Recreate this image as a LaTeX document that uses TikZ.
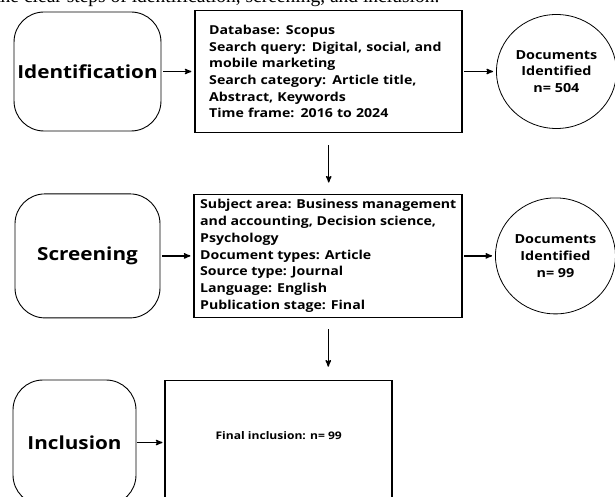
\documentclass[tikz,border=0pt]{standalone}
\usepackage{fontspec}
\setmainfont{Liberation Serif}
\newfontfamily\flowfont[FakeStretch=1.15]{Open Sans}
\usepackage{tikz}
\usetikzlibrary{arrows,shapes,positioning,calc}

\begin{document}
\begin{tikzpicture}[->,>=stealth',line width=1.3pt,x=1pt,y=1pt]
\tikzset{
	stage/.style={
		rectangle,
		rounded corners=30pt,
		draw,
		line width=0.9pt,
		minimum width=145pt,
		font=\flowfont\bfseries\fontsize{18}{22}\selectfont
	},
	criteria/.style={
		rectangle,
		draw,
		line width=1.6pt,
		align=left,
		inner sep=0pt,
		font=\flowfont\bfseries\fontsize{12.3}{16.7}\selectfont
	},
	result/.style={
		ellipse,
		draw,
		line width=0.8pt,
		align=center,
		inner sep=0pt,
		minimum width=120pt,
		font=\flowfont\bfseries\fontsize{12.5}{16.7}\selectfont
	}
}

\useasboundingbox (0,0) rectangle (615,-497);
\clip (0,0) rectangle (615,-497);

% caption line cut off above
\node[anchor=base east, inner sep=0pt, font=\fontsize{19.5}{23}\selectfont]
(CAP) at (440,-2.7) {the clear steps of identification, screening, and inclusion.};

%--------------------------- identification ------------
\node[stage, minimum height=119pt] (ID) at (87.5,-71.5) {Identification};

\node[criteria, right=33pt of ID, text width=239pt, inner xsep=14pt, minimum height=122pt]
(C1) {Database: Scopus\\
Search query: Digital, social, and\\
mobile marketing\\
Search category: Article title,\\
Abstract, Keywords\\
Time frame: 2016 to 2024};

\node[result, right=33pt of C1, minimum height=114pt]
(R1) {Documents\\ Identified\\ n= 504};

%--------------------------- screening ------------
\node[stage, below=62pt of ID, minimum height=124pt] (SC) {Screening};

\node[criteria, right=33pt of SC, minimum width=268pt, minimum height=123pt]
(C2) {Subject area: Business management\\
and accounting, Decision science,\\
Psychology\\
Document types: Article\\
Source type: Journal\\
Language: English\\
Publication stage: Final};

\node[result, right=32pt of C2, minimum height=116pt]
(R2) {Documents\\ Identified\\ n= 99};

%--------------------------- inclusion ------------
\node[stage, minimum width=123pt, minimum height=125pt] (IN) at (74.5,-442.5) {Inclusion};

\node[criteria, right=28pt of IN, minimum width=227pt, minimum height=124pt,
label={[shift={(0,7)}, font=\flowfont\bfseries\fontsize{10.5}{13}\selectfont]center:Final inclusion: n= 99}]
(C3) {};

%--------------------------- arrows ------------
\draw[shorten <=2pt, shorten >=3pt] (ID) -- (C1);
\draw[shorten <=1pt, shorten >=3pt] (C1) -- (R1);
\draw[shorten <=2pt, shorten >=3pt] (SC) -- (C2);
\draw[shorten <=1pt, shorten >=3pt] (C2) -- (R2);
\draw[shorten <=1pt, shorten >=2pt] (IN) -- (C3);

\draw[shorten <=12pt, shorten >=11pt] (C1.south) -- (C1.south |- C2.north);
\draw[shorten <=11pt, shorten >=13pt] (C2.south) -- (C2.south |- C3.north);

\end{tikzpicture}
\end{document}
